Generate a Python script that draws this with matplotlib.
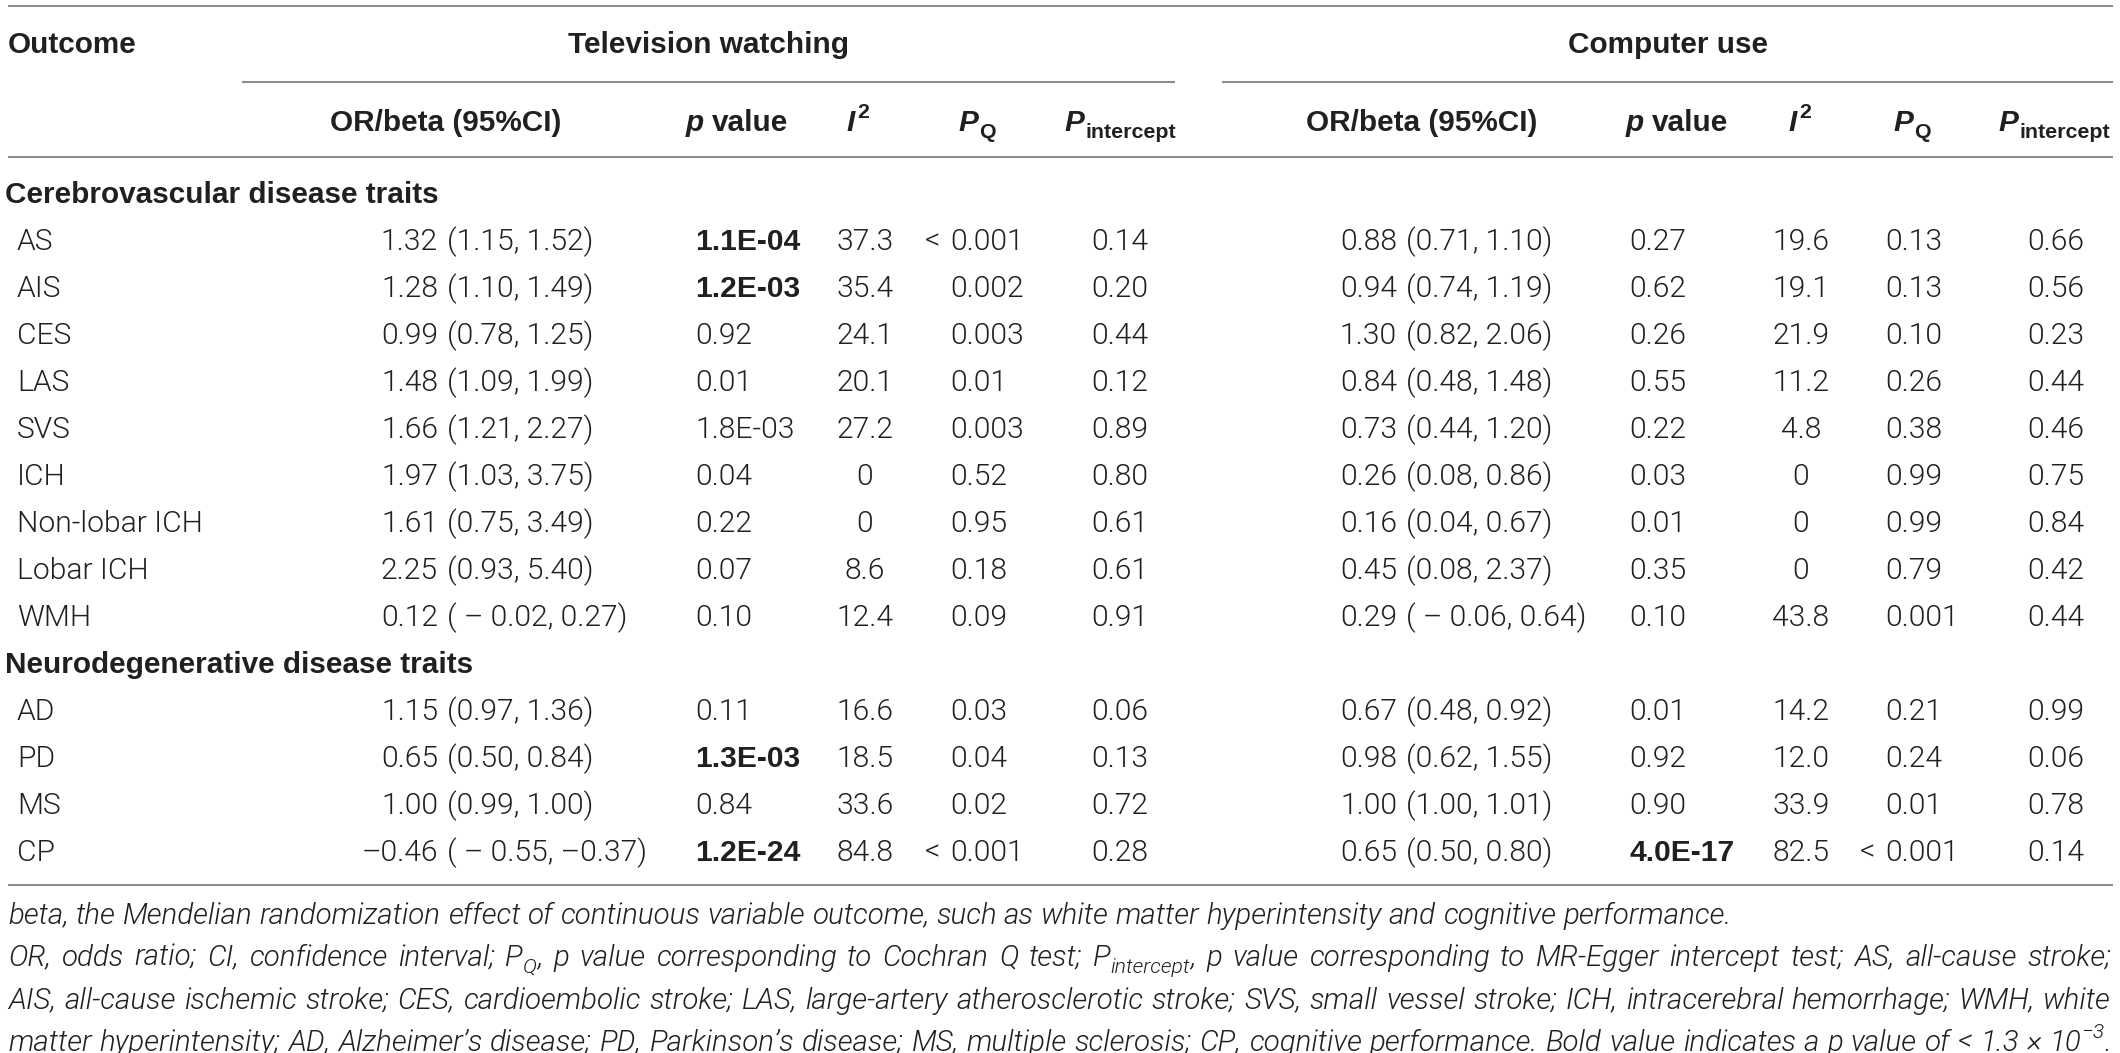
import re
import matplotlib
matplotlib.use("Agg")
import matplotlib.pyplot as plt
from matplotlib import font_manager as fm

# ---------------- data ----------------
groups = ["Cerebrovascular disease traits", "Neurodegenerative disease traits"]
outcomes = ["AS", "AIS", "CES", "LAS", "SVS", "ICH", "Non-lobar ICH", "Lobar ICH", "WMH",
            "AD", "PD", "MS", "CP"]
outcome_group = [0, 0, 0, 0, 0, 0, 0, 0, 0, 1, 1, 1, 1]

tv_or = ["1.32 (1.15, 1.52)", "1.28 (1.10, 1.49)", "0.99 (0.78, 1.25)", "1.48 (1.09, 1.99)",
         "1.66 (1.21, 2.27)", "1.97 (1.03, 3.75)", "1.61 (0.75, 3.49)", "2.25 (0.93, 5.40)",
         "0.12 ( \u2013 0.02, 0.27)", "1.15 (0.97, 1.36)", "0.65 (0.50, 0.84)",
         "1.00 (0.99, 1.00)", "\u20130.46 ( \u2013 0.55, \u20130.37)"]
tv_p = ["1.1E-04", "1.2E-03", "0.92", "0.01", "1.8E-03", "0.04", "0.22", "0.07", "0.10",
        "0.11", "1.3E-03", "0.84", "1.2E-24"]
tv_p_bold = [True, True, False, False, False, False, False, False, False,
             False, True, False, True]
tv_i2 = ["37.3", "35.4", "24.1", "20.1", "27.2", "0", "0", "8.6", "12.4",
         "16.6", "18.5", "33.6", "84.8"]
tv_pq = ["< 0.001", "0.002", "0.003", "0.01", "0.003", "0.52", "0.95", "0.18", "0.09",
         "0.03", "0.04", "0.02", "< 0.001"]
tv_pint = ["0.14", "0.20", "0.44", "0.12", "0.89", "0.80", "0.61", "0.61", "0.91",
           "0.06", "0.13", "0.72", "0.28"]

cu_or = ["0.88 (0.71, 1.10)", "0.94 (0.74, 1.19)", "1.30 (0.82, 2.06)", "0.84 (0.48, 1.48)",
         "0.73 (0.44, 1.20)", "0.26 (0.08, 0.86)", "0.16 (0.04, 0.67)", "0.45 (0.08, 2.37)",
         "0.29 ( \u2013 0.06, 0.64)", "0.67 (0.48, 0.92)", "0.98 (0.62, 1.55)",
         "1.00 (1.00, 1.01)", "0.65 (0.50, 0.80)"]
cu_p = ["0.27", "0.62", "0.26", "0.55", "0.22", "0.03", "0.01", "0.35", "0.10",
        "0.01", "0.92", "0.90", "4.0E-17"]
cu_p_bold = [False] * 12 + [True]
cu_i2 = ["19.6", "19.1", "21.9", "11.2", "4.8", "0", "0", "0", "43.8",
         "14.2", "12.0", "33.9", "82.5"]
cu_pq = ["0.13", "0.13", "0.10", "0.26", "0.38", "0.99", "0.99", "0.79", "0.001",
         "0.21", "0.24", "0.01", "< 0.001"]
cu_pint = ["0.66", "0.56", "0.23", "0.44", "0.46", "0.75", "0.84", "0.42", "0.44",
           "0.99", "0.06", "0.78", "0.14"]

exposures = ["Television watching", "Computer use"]

footnotes = [
    "beta, the Mendelian randomization effect of continuous variable outcome, such as white matter hyperintensity and cognitive performance.",
    "OR, odds ratio; CI, confidence interval; P_{Q}, p value corresponding to Cochran Q test; P_{intercept}, p value corresponding to MR-Egger intercept test; AS, all-cause stroke;",
    "AIS, all-cause ischemic stroke; CES, cardioembolic stroke; LAS, large-artery atherosclerotic stroke; SVS, small vessel stroke; ICH, intracerebral hemorrhage; WMH, white",
    "matter hyperintensity; AD, Alzheimer\u2019s disease; PD, Parkinson\u2019s disease; MS, multiple sclerosis; CP, cognitive performance. Bold value indicates a p value of < 1.3 \u00d7 10^{\u22123}.",
]
foot_justify = [False, True, True, True]

# ---------------- figure ----------------
W, H = 2120, 1053
fig = plt.figure(figsize=(W / 100, H / 100), dpi=100)
ax = fig.add_axes([0, 0, 1, 1])
ax.set_xlim(0, W)
ax.set_ylim(H, 0)
ax.axis("off")
renderer = fig.canvas.get_renderer()

TXT = "#231f20"
LINE = "#8c8c8c"


def _wt(x):
    if isinstance(x, str):
        return fm.weight_dict.get(x, 400)
    return int(x)


def pick(cands, style="normal"):
    for name, wt in cands:
        for f in fm.fontManager.ttflist:
            if f.name == name and f.style == style and _wt(f.weight) == wt:
                return name, wt
    return cands[-1]


BODY, BODY_W = pick([("Roboto", 300), ("Lato", 300), ("Open Sans", 300), ("Liberation Sans", 400)])
ITAL, ITAL_W = pick([("Roboto", 300), ("Lato", 300), ("Open Sans", 300), ("Liberation Sans", 400)],
                    style="italic")
BOLD = "Liberation Sans"


def twidth(s, **kw):
    t = ax.text(0, 0, s, **kw)
    w = t.get_window_extent(renderer).width
    t.remove()
    return w


body_kw = dict(family=BODY, weight=BODY_W, color=TXT)
bold_kw = dict(family=BOLD, weight="bold", color=TXT)
bi_kw = dict(family=BOLD, weight="bold", style="italic", color=TXT)
ital_kw = dict(family=ITAL, weight=ITAL_W, style="italic", color=TXT)

BS = 20 * 210 / twidth("1.32 (1.15, 1.52)", size=20, **body_kw)
HS = 20 * 129 / twidth("Outcome", size=20, **bold_kw)
FS = 20 * 1718 / twidth(footnotes[0], size=20, **ital_kw)


def px(size):
    return size * 100 / 72.0


def base(yc, size):
    return yc + 0.36 * px(size)


def draw_runs(x, yb, runs, ha="left"):
    objs = []
    total = 0
    for r in runs:
        if isinstance(r, (int, float)):
            objs.append((None, r))
            total += r
            continue
        txt, kw, dy = r
        t = ax.text(0, yb + dy, txt, va="baseline", ha="left", **kw)
        w = t.get_window_extent(renderer).width
        objs.append((t, w))
        total += w
    if ha == "center":
        cx = x - total / 2
    elif ha == "right":
        cx = x - total
    else:
        cx = x
    for t, w in objs:
        if t is not None:
            t.set_x(cx)
        cx += w
    return total


def hline(x0, x1, y):
    ax.plot([x0, x1], [y, y], color=LINE, lw=1.5, solid_capstyle="butt")


# ---------------- rules ----------------
hline(8, 2113, 6)
hline(242, 1175, 82)
hline(1222, 2113, 82)
hline(8, 2113, 157)
hline(8, 2113, 885)

# ---------------- headers ----------------
y1 = base(42, HS)
ax.text(8, y1, "Outcome", size=HS, ha="left", va="baseline", **bold_kw)
ax.text(708, y1, exposures[0], size=HS, ha="center", va="baseline", **bold_kw)
ax.text(1668, y1, exposures[1], size=HS, ha="center", va="baseline", **bold_kw)

y2 = base(120, HS)
sp_b = twidth("a a", size=HS, **bold_kw) - twidth("aa", size=HS, **bold_kw)
sub_kw = dict(bold_kw, size=HS * 0.72)
hdr_b = dict(bold_kw, size=HS)
hdr_bi = dict(bi_kw, size=HS)
col_hdr = {
    "or": [("OR/beta (95%CI)", hdr_b, 0)],
    "p": [("p", hdr_bi, 0), sp_b, ("value", hdr_b, 0)],
    "i2": [("I", hdr_bi, 0), 2, ("2", sub_kw, -0.42 * px(HS))],
    "pq": [("P", hdr_bi, 0), 1, ("Q", sub_kw, 0.24 * px(HS))],
    "pint": [("P", hdr_bi, 0), 1, ("intercept", sub_kw, 0.24 * px(HS))],
}
hdr_x = [dict(or_=446, p=737, i2=858, pq=977, pint=1120),
         dict(or_=1422, p=1677, i2=1800, pq=1912, pint=2054)]
for hx in hdr_x:
    draw_runs(hx["or_"], y2, col_hdr["or"], ha="center")
    draw_runs(hx["p"], y2, col_hdr["p"], ha="center")
    draw_runs(hx["i2"], y2, col_hdr["i2"], ha="center")
    draw_runs(hx["pq"], y2, col_hdr["pq"], ha="center")
    draw_runs(hx["pint"], y2, col_hdr["pint"], ha="center")

# ---------------- body ----------------
STEP = 47.0
Y0 = 192.0
cols = [
    dict(orr=438, orl=447, p=695, i2=865, pq=950, pint=1120,
         d_or=tv_or, d_p=tv_p, d_pb=tv_p_bold, d_i2=tv_i2, d_pq=tv_pq, d_pint=tv_pint),
    dict(orr=1397, orl=1406, p=1629, i2=1801, pq=1885, pint=2056,
         d_or=cu_or, d_p=cu_p, d_pb=cu_p_bold, d_i2=cu_i2, d_pq=cu_pq, d_pint=cu_pint),
]

k = 0
last_group = -1
for i, name in enumerate(outcomes):
    g = outcome_group[i]
    if g != last_group:
        ax.text(5, base(Y0 + k * STEP, HS), groups[g], size=HS, ha="left", va="baseline", **bold_kw)
        k += 1
        last_group = g
    yb = base(Y0 + k * STEP, BS)
    ax.text(17, yb, name, size=BS, ha="left", va="baseline", **body_kw)
    for c in cols:
        est, rest = c["d_or"][i].split(" (", 1)
        ax.text(c["orr"], yb, est, size=BS, ha="right", va="baseline", **body_kw)
        ax.text(c["orl"], yb, "(" + rest, size=BS, ha="left", va="baseline", **body_kw)
        pkw = bold_kw if c["d_pb"][i] else body_kw
        ax.text(c["p"], yb, c["d_p"][i], size=BS, ha="left", va="baseline", **pkw)
        ax.text(c["i2"], yb, c["d_i2"][i], size=BS, ha="center", va="baseline", **body_kw)
        pq = c["d_pq"][i]
        if pq.startswith("<"):
            ax.text(c["pq"] - 10, yb, "<", size=BS, ha="right", va="baseline", **body_kw)
            pq = pq[1:].strip()
        ax.text(c["pq"], yb, pq, size=BS, ha="left", va="baseline", **body_kw)
        ax.text(c["pint"], yb, c["d_pint"][i], size=BS, ha="center", va="baseline", **body_kw)
    k += 1

# ---------------- footnotes ----------------
fk = dict(ital_kw, size=FS)
fsub = dict(ital_kw, size=FS * 0.72)
fsup = dict(ital_kw, size=FS * 0.72)
sp_f = twidth("a a", **fk) - twidth("aa", **fk)


def word_runs(word):
    parts = re.split(r"(_\{[^}]*\}|\^\{[^}]*\})", word)
    runs = []
    for p in parts:
        if not p:
            continue
        if p.startswith("_{"):
            runs.append((p[2:-1], fsub, 0.24 * px(FS)))
        elif p.startswith("^{"):
            runs.append((p[2:-1], fsup, -0.42 * px(FS)))
        else:
            runs.append((p, fk, 0))
    return runs


def runs_width(runs):
    return sum(twidth(t, **kw) for t, kw, _ in runs)


foot_y = [913, 955, 998, 1040]
XL, XR = 8, 2111
for line, just, yc in zip(footnotes, foot_justify, foot_y):
    yb = base(yc, FS)
    words = line.split(" ")
    wr = [word_runs(w) for w in words]
    ws = [runs_width(r) for r in wr]
    if just and len(words) > 1:
        gap = (XR - XL - sum(ws)) / (len(words) - 1)
    else:
        gap = sp_f
    x = XL
    for r, w in zip(wr, ws):
        draw_runs(x, yb, r, ha="left")
        x += w + gap

fig.savefig("out.png", dpi=100, facecolor="white")
